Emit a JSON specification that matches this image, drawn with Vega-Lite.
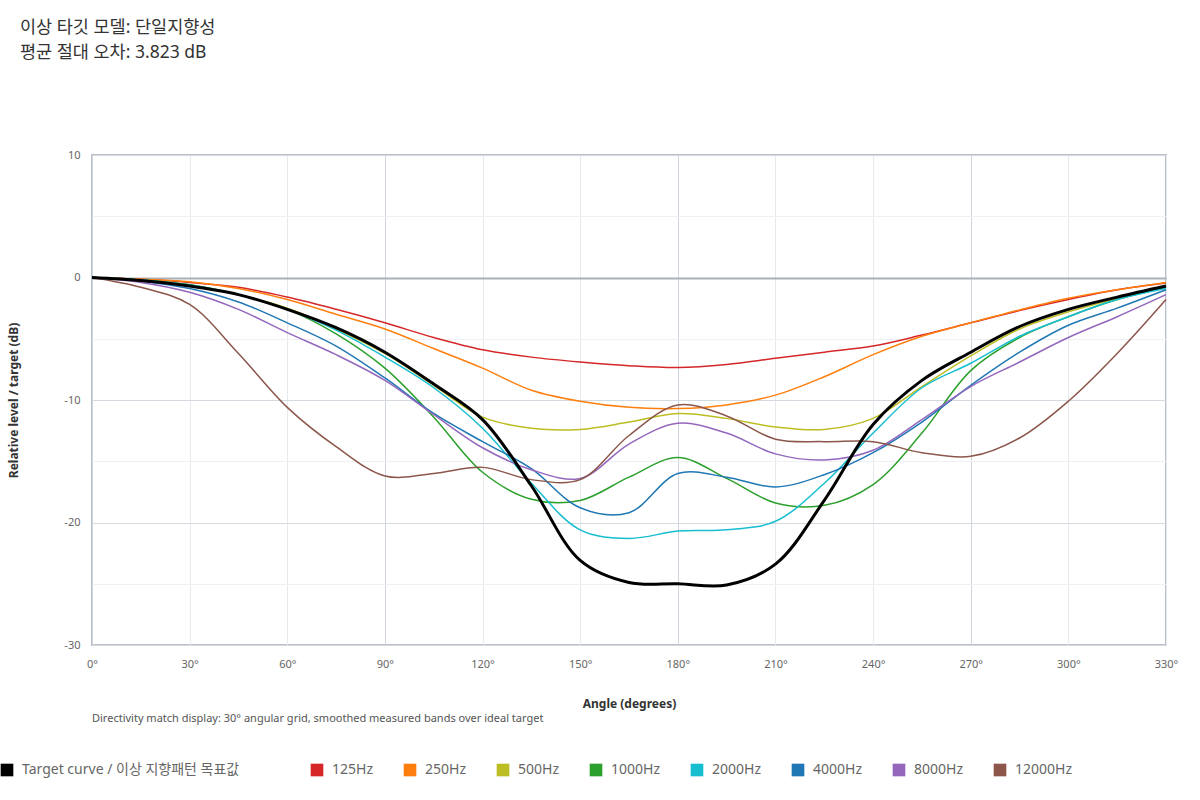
{
  "$schema": "https://vega.github.io/schema/vega-lite/v6.json",
  "width": 1074,
  "height": 490,
  "autosize": "none",
  "padding": {"left": 92, "top": 155, "right": 34, "bottom": 155},
  "background": "white",
  "title": {
    "text": ["이상 타깃 모델: 단일지향성", "평균 절대 오차: 3.823 dB"],
    "anchor": "start",
    "frame": "group",
    "dx": -72,
    "offset": 88,
    "fontSize": 17.5,
    "fontWeight": "normal",
    "color": "#333333",
    "lineHeight": 25
  },
  "data": {
    "values": [
      {"angle": 0, "level": 0, "series": "Target curve / 이상 지향패턴 목표값"},
      {"angle": 15, "level": -0.25, "series": "Target curve / 이상 지향패턴 목표값"},
      {"angle": 30, "level": -0.7, "series": "Target curve / 이상 지향패턴 목표값"},
      {"angle": 45, "level": -1.4, "series": "Target curve / 이상 지향패턴 목표값"},
      {"angle": 60, "level": -2.6, "series": "Target curve / 이상 지향패턴 목표값"},
      {"angle": 75, "level": -4.1, "series": "Target curve / 이상 지향패턴 목표값"},
      {"angle": 90, "level": -6.1, "series": "Target curve / 이상 지향패턴 목표값"},
      {"angle": 105, "level": -8.7, "series": "Target curve / 이상 지향패턴 목표값"},
      {"angle": 120, "level": -11.6, "series": "Target curve / 이상 지향패턴 목표값"},
      {"angle": 135, "level": -17.0, "series": "Target curve / 이상 지향패턴 목표값"},
      {"angle": 150, "level": -23.1, "series": "Target curve / 이상 지향패턴 목표값"},
      {"angle": 165, "level": -24.9, "series": "Target curve / 이상 지향패턴 목표값"},
      {"angle": 180, "level": -25.0, "series": "Target curve / 이상 지향패턴 목표값"},
      {"angle": 195, "level": -25.1, "series": "Target curve / 이상 지향패턴 목표값"},
      {"angle": 210, "level": -23.4, "series": "Target curve / 이상 지향패턴 목표값"},
      {"angle": 225, "level": -18.2, "series": "Target curve / 이상 지향패턴 목표값"},
      {"angle": 240, "level": -12.0, "series": "Target curve / 이상 지향패턴 목표값"},
      {"angle": 255, "level": -8.4, "series": "Target curve / 이상 지향패턴 목표값"},
      {"angle": 270, "level": -6.1, "series": "Target curve / 이상 지향패턴 목표값"},
      {"angle": 285, "level": -4.0, "series": "Target curve / 이상 지향패턴 목표값"},
      {"angle": 300, "level": -2.6, "series": "Target curve / 이상 지향패턴 목표값"},
      {"angle": 315, "level": -1.6, "series": "Target curve / 이상 지향패턴 목표값"},
      {"angle": 330, "level": -0.7, "series": "Target curve / 이상 지향패턴 목표값"},

      {"angle": 0, "level": 0, "series": "125Hz"},
      {"angle": 15, "level": -0.15, "series": "125Hz"},
      {"angle": 30, "level": -0.4, "series": "125Hz"},
      {"angle": 45, "level": -0.8, "series": "125Hz"},
      {"angle": 60, "level": -1.6, "series": "125Hz"},
      {"angle": 75, "level": -2.6, "series": "125Hz"},
      {"angle": 90, "level": -3.7, "series": "125Hz"},
      {"angle": 105, "level": -4.9, "series": "125Hz"},
      {"angle": 120, "level": -5.9, "series": "125Hz"},
      {"angle": 135, "level": -6.5, "series": "125Hz"},
      {"angle": 150, "level": -6.9, "series": "125Hz"},
      {"angle": 165, "level": -7.2, "series": "125Hz"},
      {"angle": 180, "level": -7.35, "series": "125Hz"},
      {"angle": 195, "level": -7.1, "series": "125Hz"},
      {"angle": 210, "level": -6.6, "series": "125Hz"},
      {"angle": 225, "level": -6.1, "series": "125Hz"},
      {"angle": 240, "level": -5.6, "series": "125Hz"},
      {"angle": 255, "level": -4.7, "series": "125Hz"},
      {"angle": 270, "level": -3.7, "series": "125Hz"},
      {"angle": 285, "level": -2.7, "series": "125Hz"},
      {"angle": 300, "level": -1.8, "series": "125Hz"},
      {"angle": 315, "level": -1.0, "series": "125Hz"},
      {"angle": 330, "level": -0.45, "series": "125Hz"},

      {"angle": 0, "level": 0, "series": "250Hz"},
      {"angle": 15, "level": -0.15, "series": "250Hz"},
      {"angle": 30, "level": -0.35, "series": "250Hz"},
      {"angle": 45, "level": -0.9, "series": "250Hz"},
      {"angle": 60, "level": -1.8, "series": "250Hz"},
      {"angle": 75, "level": -3.0, "series": "250Hz"},
      {"angle": 90, "level": -4.2, "series": "250Hz"},
      {"angle": 105, "level": -5.8, "series": "250Hz"},
      {"angle": 120, "level": -7.4, "series": "250Hz"},
      {"angle": 135, "level": -9.2, "series": "250Hz"},
      {"angle": 150, "level": -10.1, "series": "250Hz"},
      {"angle": 165, "level": -10.6, "series": "250Hz"},
      {"angle": 180, "level": -10.7, "series": "250Hz"},
      {"angle": 195, "level": -10.4, "series": "250Hz"},
      {"angle": 210, "level": -9.6, "series": "250Hz"},
      {"angle": 225, "level": -8.1, "series": "250Hz"},
      {"angle": 240, "level": -6.3, "series": "250Hz"},
      {"angle": 255, "level": -4.8, "series": "250Hz"},
      {"angle": 270, "level": -3.7, "series": "250Hz"},
      {"angle": 285, "level": -2.65, "series": "250Hz"},
      {"angle": 300, "level": -1.7, "series": "250Hz"},
      {"angle": 315, "level": -1.0, "series": "250Hz"},
      {"angle": 330, "level": -0.4, "series": "250Hz"},

      {"angle": 0, "level": 0, "series": "500Hz"},
      {"angle": 15, "level": -0.2, "series": "500Hz"},
      {"angle": 30, "level": -0.6, "series": "500Hz"},
      {"angle": 45, "level": -1.4, "series": "500Hz"},
      {"angle": 60, "level": -2.5, "series": "500Hz"},
      {"angle": 75, "level": -4.2, "series": "500Hz"},
      {"angle": 90, "level": -6.2, "series": "500Hz"},
      {"angle": 105, "level": -8.8, "series": "500Hz"},
      {"angle": 120, "level": -11.4, "series": "500Hz"},
      {"angle": 135, "level": -12.3, "series": "500Hz"},
      {"angle": 150, "level": -12.4, "series": "500Hz"},
      {"angle": 165, "level": -11.8, "series": "500Hz"},
      {"angle": 180, "level": -11.1, "series": "500Hz"},
      {"angle": 195, "level": -11.5, "series": "500Hz"},
      {"angle": 210, "level": -12.2, "series": "500Hz"},
      {"angle": 225, "level": -12.4, "series": "500Hz"},
      {"angle": 240, "level": -11.5, "series": "500Hz"},
      {"angle": 255, "level": -8.9, "series": "500Hz"},
      {"angle": 270, "level": -6.4, "series": "500Hz"},
      {"angle": 285, "level": -4.2, "series": "500Hz"},
      {"angle": 300, "level": -2.8, "series": "500Hz"},
      {"angle": 315, "level": -1.7, "series": "500Hz"},
      {"angle": 330, "level": -0.7, "series": "500Hz"},

      {"angle": 0, "level": 0, "series": "1000Hz"},
      {"angle": 15, "level": -0.2, "series": "1000Hz"},
      {"angle": 30, "level": -0.6, "series": "1000Hz"},
      {"angle": 45, "level": -1.4, "series": "1000Hz"},
      {"angle": 60, "level": -2.6, "series": "1000Hz"},
      {"angle": 75, "level": -4.6, "series": "1000Hz"},
      {"angle": 90, "level": -7.4, "series": "1000Hz"},
      {"angle": 105, "level": -11.4, "series": "1000Hz"},
      {"angle": 120, "level": -15.9, "series": "1000Hz"},
      {"angle": 135, "level": -18.1, "series": "1000Hz"},
      {"angle": 150, "level": -18.2, "series": "1000Hz"},
      {"angle": 165, "level": -16.3, "series": "1000Hz"},
      {"angle": 180, "level": -14.7, "series": "1000Hz"},
      {"angle": 195, "level": -16.4, "series": "1000Hz"},
      {"angle": 210, "level": -18.4, "series": "1000Hz"},
      {"angle": 225, "level": -18.6, "series": "1000Hz"},
      {"angle": 240, "level": -16.9, "series": "1000Hz"},
      {"angle": 255, "level": -12.7, "series": "1000Hz"},
      {"angle": 270, "level": -7.6, "series": "1000Hz"},
      {"angle": 285, "level": -4.9, "series": "1000Hz"},
      {"angle": 300, "level": -3.2, "series": "1000Hz"},
      {"angle": 315, "level": -1.8, "series": "1000Hz"},
      {"angle": 330, "level": -0.8, "series": "1000Hz"},

      {"angle": 0, "level": 0, "series": "2000Hz"},
      {"angle": 15, "level": -0.2, "series": "2000Hz"},
      {"angle": 30, "level": -0.6, "series": "2000Hz"},
      {"angle": 45, "level": -1.4, "series": "2000Hz"},
      {"angle": 60, "level": -2.6, "series": "2000Hz"},
      {"angle": 75, "level": -4.3, "series": "2000Hz"},
      {"angle": 90, "level": -6.5, "series": "2000Hz"},
      {"angle": 105, "level": -9.0, "series": "2000Hz"},
      {"angle": 120, "level": -12.3, "series": "2000Hz"},
      {"angle": 135, "level": -16.8, "series": "2000Hz"},
      {"angle": 150, "level": -20.6, "series": "2000Hz"},
      {"angle": 165, "level": -21.3, "series": "2000Hz"},
      {"angle": 180, "level": -20.7, "series": "2000Hz"},
      {"angle": 195, "level": -20.6, "series": "2000Hz"},
      {"angle": 210, "level": -19.9, "series": "2000Hz"},
      {"angle": 225, "level": -16.8, "series": "2000Hz"},
      {"angle": 240, "level": -12.7, "series": "2000Hz"},
      {"angle": 255, "level": -9.0, "series": "2000Hz"},
      {"angle": 270, "level": -7.0, "series": "2000Hz"},
      {"angle": 285, "level": -4.8, "series": "2000Hz"},
      {"angle": 300, "level": -3.2, "series": "2000Hz"},
      {"angle": 315, "level": -1.8, "series": "2000Hz"},
      {"angle": 330, "level": -0.9, "series": "2000Hz"},

      {"angle": 0, "level": 0, "series": "4000Hz"},
      {"angle": 15, "level": -0.3, "series": "4000Hz"},
      {"angle": 30, "level": -0.9, "series": "4000Hz"},
      {"angle": 45, "level": -2.0, "series": "4000Hz"},
      {"angle": 60, "level": -3.7, "series": "4000Hz"},
      {"angle": 75, "level": -5.6, "series": "4000Hz"},
      {"angle": 90, "level": -8.2, "series": "4000Hz"},
      {"angle": 105, "level": -11.1, "series": "4000Hz"},
      {"angle": 120, "level": -13.4, "series": "4000Hz"},
      {"angle": 135, "level": -15.6, "series": "4000Hz"},
      {"angle": 150, "level": -18.8, "series": "4000Hz"},
      {"angle": 165, "level": -19.2, "series": "4000Hz"},
      {"angle": 180, "level": -16.0, "series": "4000Hz"},
      {"angle": 195, "level": -16.3, "series": "4000Hz"},
      {"angle": 210, "level": -17.1, "series": "4000Hz"},
      {"angle": 225, "level": -16.1, "series": "4000Hz"},
      {"angle": 240, "level": -14.3, "series": "4000Hz"},
      {"angle": 255, "level": -11.8, "series": "4000Hz"},
      {"angle": 270, "level": -8.8, "series": "4000Hz"},
      {"angle": 285, "level": -6.1, "series": "4000Hz"},
      {"angle": 300, "level": -3.9, "series": "4000Hz"},
      {"angle": 315, "level": -2.5, "series": "4000Hz"},
      {"angle": 330, "level": -1.0, "series": "4000Hz"},

      {"angle": 0, "level": 0, "series": "8000Hz"},
      {"angle": 15, "level": -0.4, "series": "8000Hz"},
      {"angle": 30, "level": -1.2, "series": "8000Hz"},
      {"angle": 45, "level": -2.6, "series": "8000Hz"},
      {"angle": 60, "level": -4.5, "series": "8000Hz"},
      {"angle": 75, "level": -6.3, "series": "8000Hz"},
      {"angle": 90, "level": -8.4, "series": "8000Hz"},
      {"angle": 105, "level": -11.2, "series": "8000Hz"},
      {"angle": 120, "level": -13.9, "series": "8000Hz"},
      {"angle": 135, "level": -15.7, "series": "8000Hz"},
      {"angle": 150, "level": -16.4, "series": "8000Hz"},
      {"angle": 165, "level": -13.6, "series": "8000Hz"},
      {"angle": 180, "level": -11.9, "series": "8000Hz"},
      {"angle": 195, "level": -12.7, "series": "8000Hz"},
      {"angle": 210, "level": -14.4, "series": "8000Hz"},
      {"angle": 225, "level": -14.9, "series": "8000Hz"},
      {"angle": 240, "level": -14.1, "series": "8000Hz"},
      {"angle": 255, "level": -11.6, "series": "8000Hz"},
      {"angle": 270, "level": -8.9, "series": "8000Hz"},
      {"angle": 285, "level": -6.9, "series": "8000Hz"},
      {"angle": 300, "level": -4.9, "series": "8000Hz"},
      {"angle": 315, "level": -3.2, "series": "8000Hz"},
      {"angle": 330, "level": -1.4, "series": "8000Hz"},

      {"angle": 0, "level": 0, "series": "12000Hz"},
      {"angle": 15, "level": -0.8, "series": "12000Hz"},
      {"angle": 30, "level": -2.2, "series": "12000Hz"},
      {"angle": 45, "level": -6.2, "series": "12000Hz"},
      {"angle": 60, "level": -10.6, "series": "12000Hz"},
      {"angle": 75, "level": -13.8, "series": "12000Hz"},
      {"angle": 90, "level": -16.2, "series": "12000Hz"},
      {"angle": 105, "level": -16.0, "series": "12000Hz"},
      {"angle": 120, "level": -15.5, "series": "12000Hz"},
      {"angle": 135, "level": -16.5, "series": "12000Hz"},
      {"angle": 150, "level": -16.5, "series": "12000Hz"},
      {"angle": 165, "level": -12.9, "series": "12000Hz"},
      {"angle": 180, "level": -10.4, "series": "12000Hz"},
      {"angle": 195, "level": -11.3, "series": "12000Hz"},
      {"angle": 210, "level": -13.2, "series": "12000Hz"},
      {"angle": 225, "level": -13.4, "series": "12000Hz"},
      {"angle": 240, "level": -13.4, "series": "12000Hz"},
      {"angle": 255, "level": -14.3, "series": "12000Hz"},
      {"angle": 270, "level": -14.6, "series": "12000Hz"},
      {"angle": 285, "level": -13.1, "series": "12000Hz"},
      {"angle": 300, "level": -10.1, "series": "12000Hz"},
      {"angle": 315, "level": -6.2, "series": "12000Hz"},
      {"angle": 330, "level": -1.8, "series": "12000Hz"}
    ]
  },
  "layer": [
    {
      "transform": [{"filter": "datum.series !== 'Target curve / 이상 지향패턴 목표값'"}],
      "mark": {"type": "line", "interpolate": "catmull-rom", "strokeWidth": 1.5},
      "encoding": {
        "x": {
          "field": "angle",
          "type": "quantitative",
          "scale": {"domain": [0, 330], "nice": false},
          "axis": {
            "title": "Angle (degrees)",
            "values": [0, 30, 60, 90, 120, 150, 180, 210, 240, 270, 300, 330],
            "labelExpr": "datum.value + '°'",
            "labelFlush": false,
            "domain": false,
            "ticks": false,
            "labelPadding": 13,
            "labelFontSize": 11,
            "labelColor": "#666666",
            "titleFontSize": 12,
            "titleFontWeight": "bold",
            "titleColor": "#333333",
            "titlePadding": 29,
            "gridColor": {"condition": {"test": "datum.value % 90 === 0", "value": "#cfd5dc"}, "value": "#e6e9ed"}
          }
        },
        "y": {
          "field": "level",
          "type": "quantitative",
          "scale": {"domain": [-30, 10], "nice": false},
          "axis": {
            "title": "Relative level / target (dB)",
            "values": [-30, -25, -20, -15, -10, -5, 0, 5, 10],
            "labelExpr": "datum.value % 10 === 0 ? '' + datum.value : ''",
            "labelFlush": false,
            "domain": false,
            "ticks": false,
            "labelPadding": 12,
            "labelFontSize": 11,
            "labelColor": "#666666",
            "titleFontSize": 12,
            "titleFontWeight": "bold",
            "titleColor": "#333333",
            "titlePadding": 43,
            "gridColor": {"condition": [{"test": "datum.value === 0", "value": "#a9b1ba"}, {"test": "datum.value % 10 === 0", "value": "#d5dae0"}], "value": "#eef0f3"},
            "gridWidth": {"condition": {"test": "datum.value === 0", "value": 2}, "value": 1}
          }
        },
        "color": {
          "field": "series",
          "type": "nominal",
          "scale": {
            "domain": ["Target curve / 이상 지향패턴 목표값", "125Hz", "250Hz", "500Hz", "1000Hz", "2000Hz", "4000Hz", "8000Hz", "12000Hz"],
            "range": ["#000000", "#d62728", "#ff7f0e", "#bcbd22", "#2ca02c", "#17becf", "#1f77b4", "#9467bd", "#8c564b"]
          },
          "legend": {
            "title": null,
            "orient": "none",
            "legendX": -92,
            "legendY": 608,
            "direction": "horizontal",
            "symbolType": "square",
            "symbolSize": 160,
            "symbolStrokeWidth": 0,
            "labelFontSize": 14,
            "labelColor": "#666666",
            "labelOffset": 8,
            "labelLimit": 0,
            "labelExpr": "indexof(datum.label, 'Target') === 0 ? datum.label + '\u2800\u2800\u2800\u2800' : datum.label",
            "columnPadding": 30,
            "encode": {
              "symbols": {"update": {"fill": {"scale": "color", "field": "value"}, "opacity": {"value": 1}}}
            }
          }
        }
      }
    },
    {
      "transform": [{"filter": "datum.series === 'Target curve / 이상 지향패턴 목표값'"}],
      "mark": {"type": "line", "interpolate": "catmull-rom", "strokeWidth": 3},
      "encoding": {
        "x": {"field": "angle", "type": "quantitative"},
        "y": {"field": "level", "type": "quantitative"},
        "color": {"field": "series", "type": "nominal"}
      }
    },
    {
      "data": {"values": [{"angle": 0, "level": -30, "note": "Directivity match display: 30° angular grid, smoothed measured bands over ideal target"}]},
      "mark": {"type": "text", "align": "left", "baseline": "middle", "dy": 74, "fontSize": 11, "color": "#555555"},
      "encoding": {
        "x": {"field": "angle", "type": "quantitative"},
        "y": {"field": "level", "type": "quantitative"},
        "text": {"field": "note"}
      }
    }
  ],
  "config": {
    "font": "Noto Sans, Noto Sans CJK KR, sans-serif",
    "view": {"stroke": "#b9c0c8", "strokeWidth": 2}
  }
}
